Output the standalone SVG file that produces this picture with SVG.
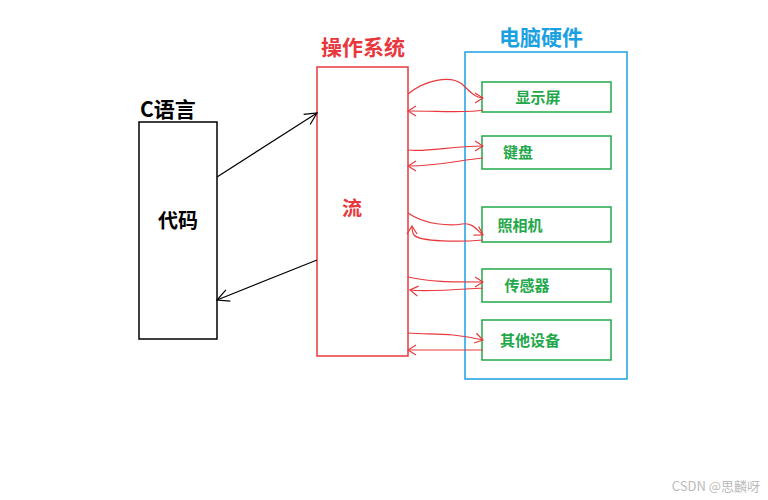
<svg xmlns="http://www.w3.org/2000/svg" width="768" height="500" viewBox="0 0 768 500">
<style>
text{font-family:"Noto Sans CJK SC","Liberation Sans",sans-serif;font-weight:bold}
.g{fill:none;stroke:#22a84a;stroke-width:1.5}
.gt{fill:#22a84a;font-size:15px}
.r{fill:none;stroke:#e8383d;stroke-width:1.2}
</style>
<defs>
<marker id="ah" markerWidth="14" markerHeight="14" refX="13" refY="7" orient="auto" markerUnits="userSpaceOnUse"><path d="M1,1L13,7L1,13" fill="none" stroke="#000" stroke-width="1.2"/></marker>
<marker id="rh" markerWidth="10" markerHeight="12" refX="9" refY="6" orient="auto" markerUnits="userSpaceOnUse"><path d="M1,1L9,6L1,11" fill="none" stroke="#e8383d" stroke-width="1.2"/></marker>
</defs>
<rect width="768" height="500" fill="#fff"/>
<g id="c">
<text x="140" y="117" font-size="21" fill="#000">C语言</text>
<rect x="139" y="122" width="78" height="217" fill="none" stroke="#000" stroke-width="1.5"/>
<text x="178" y="228" font-size="20" text-anchor="middle" fill="#000">代码</text>
</g>
<g id="os">
<text x="363" y="55" font-size="21" text-anchor="middle" fill="#e8383d">操作系统</text>
<rect x="317" y="67" width="91" height="289" fill="none" stroke="#e8383d" stroke-width="1.5"/>
<text x="352" y="216" font-size="20" text-anchor="middle" fill="#e8383d">流</text>
</g>
<g id="hw">
<text x="541" y="45" font-size="21" text-anchor="middle" fill="#1ba1e2">电脑硬件</text>
<rect x="465" y="52" width="162" height="327" fill="none" stroke="#1ba1e2" stroke-width="1.5"/>
</g>
<g id="n1"><rect class="g" x="482" y="82" width="129" height="30"/><text class="gt" x="538" y="103" text-anchor="middle">显示屏</text></g>
<g id="n2"><rect class="g" x="482" y="136" width="129" height="33"/><text class="gt" x="518" y="158" text-anchor="middle">键盘</text></g>
<g id="n3"><rect class="g" x="482" y="207" width="129" height="35"/><text class="gt" x="520" y="231" text-anchor="middle">照相机</text></g>
<g id="n4"><rect class="g" x="482" y="269" width="129" height="33"/><text class="gt" x="527" y="291" text-anchor="middle">传感器</text></g>
<g id="n5"><rect class="g" x="482" y="320" width="129" height="40"/><text class="gt" x="530" y="346" text-anchor="middle">其他设备</text></g>
<g id="connectors">
<path d="M217,177L317,113" stroke="#000" stroke-width="1.2" marker-end="url(#ah)"/>
<path d="M317,260L217,300" stroke="#000" stroke-width="1.2" marker-end="url(#ah)"/>
<path class="r" d="M408,94C425,80 450,75 462,84C470,92 476,98 483,98" marker-end="url(#rh)"/>
<path class="r" d="M483,110C470,113 440,111 408,111" marker-end="url(#rh)"/>
<path class="r" d="M408,150C430,152 450,146 483,146" marker-end="url(#rh)"/>
<path class="r" d="M483,158C460,160 440,166 408,166" marker-end="url(#rh)"/>
<path class="r" d="M408,213C425,225 450,226 462,224C474,222 478,232 483,235" marker-end="url(#rh)"/>
<path class="r" d="M483,240C460,242 420,242 414,235C412,232 412,228 412,226" marker-end="url(#rh)"/>
<path class="r" d="M408,277C430,282 450,282 483,282" marker-end="url(#rh)"/>
<path class="r" d="M483,288C450,290 425,292 410,290" marker-end="url(#rh)"/>
<path class="r" d="M408,333C430,335 450,332 483,340" marker-end="url(#rh)"/>
<path class="r" d="M483,350C460,350 430,350 408,350" marker-end="url(#rh)"/>
</g>
<text x="760" y="491" font-size="13" text-anchor="end" fill="#bbb" style="font-weight:normal">CSDN @思麟呀</text>
</svg>
